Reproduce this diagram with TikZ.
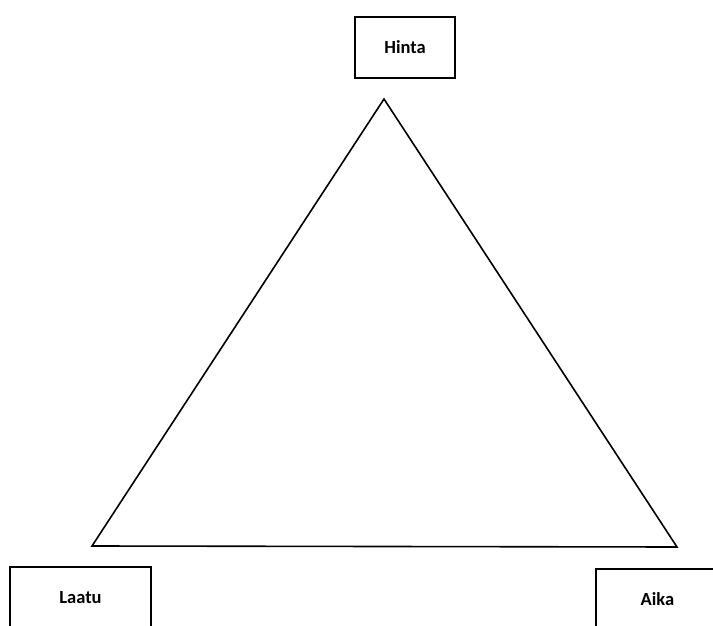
\documentclass[tikz,border=0pt]{standalone}
\usepackage{fontspec}
\setsansfont{Carlito}
\usepackage{tikz}
\usetikzlibrary{positioning}
\tikzstyle{laatikko} = [draw=black, line width=2.4pt, rectangle, fill=white, inner sep=0pt, font=\sffamily\bfseries\fontsize{18.5}{22}\selectfont]
\tikzstyle{kolmio} = [draw=black, line width=1.6pt]

\begin{document}
\begin{tikzpicture}[x=1pt, y=-1pt]
	\useasboundingbox (0,0) rectangle (713,626);
	\clip (0,0) rectangle (713,626);
	% kolmion kulmat
	\coordinate (ylä) at (384,99);
	\coordinate (vasen) at (92,546);
	\coordinate (oikea) at (677,547);
	\draw[kolmio] (ylä) -- (oikea) -- (vasen) -- cycle;
	% laatikot
	\node[laatikko, minimum width=99.5pt, minimum height=60.5pt] (hinta) at (405,47.5) {Hinta};
	\node[laatikko, minimum width=140.5pt, minimum height=60.5pt] (laatu) at (80.5,597.5) {Laatu};
	\node[laatikko, minimum width=122.5pt, minimum height=60.5pt] (aika) at (657.5,599.5) {Aika};
\end{tikzpicture}
\end{document}
